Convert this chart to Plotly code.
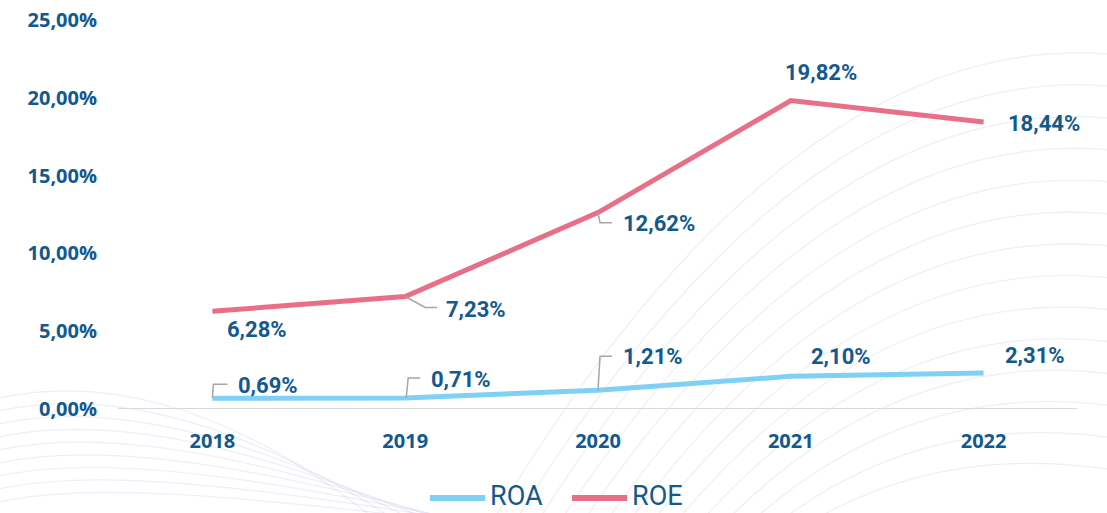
import plotly.graph_objects as go

years = [2018, 2019, 2020, 2021, 2022]
roa = [0.69, 0.71, 1.21, 2.10, 2.31]
roe = [6.28, 7.23, 12.62, 19.82, 18.44]
roa_labels = ["0,69%", "0,71%", "1,21%", "2,10%", "2,31%"]
roe_labels = ["6,28%", "7,23%", "12,62%", "19,82%", "18,44%"]
y_ticks = [0, 5, 10, 15, 20, 25]
y_tick_text = ["0,00%", "5,00%", "10,00%", "15,00%", "20,00%", "25,00%"]
series_names = ["ROA", "ROE"]

ROA_COLOR = "#7FD0F5"
ROE_COLOR = "#E96E87"
TEXT_COLOR = "#11598F"
LEADER = "#A6A6A6"
BG_LINE = "rgba(200,202,232,0.32)"

W, H = 1107, 513
L, R, T, B = 116, 27, 20, 104


def px(x):
    return (x - L) / (W - L - R)


def py(y):
    return (H - B - y) / (H - T - B)


# label placement (pixel offsets: dx, dy, anchor) and leader paths
roa_style = [
    (24, 13, "left", "M0,0 L1,14 L15,14"),
    (24, 18, "left", "M1,0 L3,20 L15,20"),
    (23, 34, "left", "M0,0 L2,34 L14,34"),
    (18, 20, "left", None),
    (19, 18, "left", None),
]
roe_style = [
    (13, -18, "left", None),
    (39, -13, "left", "M0,0 L20,-11 L32,-11"),
    (23, -11, "left", "M0,0 L2,-10 L14,-10"),
    (30, 28, "center", None),
    (22, -1, "left", None),
]

fig = go.Figure()
fig.add_trace(go.Scatter(x=years, y=roa, name=series_names[0], mode="lines",
                         line=dict(color=ROA_COLOR, width=5), hoverinfo="skip",
                         showlegend=False))
fig.add_trace(go.Scatter(x=years, y=roe, name=series_names[1], mode="lines",
                         line=dict(color=ROE_COLOR, width=5), hoverinfo="skip",
                         showlegend=False))

annotations = []
shapes = []

# faint decorative background curves
for i in range(14):
    ye = 40 + 32 * i
    x0 = 470 + 22 * i
    shapes.append(dict(type="path", xref="paper", yref="paper", layer="below",
                       path=f"M{px(x0)},{py(560)} Q{px(780 + 10 * i)},{py(ye - 20)} {px(1120)},{py(ye + 15)}",
                       line=dict(color=BG_LINE, width=1.2)))
for i in range(9):
    y0 = 392 + 13 * i
    shapes.append(dict(type="path", xref="paper", yref="paper", layer="below",
                       path=f"M{px(-10)},{py(y0 + 8)} C{px(80)},{py(y0 - 14)} {px(220)},{py(y0 - 6)} {px(400 + 25 * i)},{py(540)}",
                       line=dict(color=BG_LINE, width=1.2)))

for vals, labels, style in [(roa, roa_labels, roa_style), (roe, roe_labels, roe_style)]:
    for x, v, lab, (dx, dy, anc, path) in zip(years, vals, labels, style):
        annotations.append(dict(x=x, y=v, xref="x", yref="y", text=lab, showarrow=False,
                                xanchor=anc, yanchor="middle", xshift=dx, yshift=dy,
                                font=dict(family="Roboto", size=22, color=TEXT_COLOR, weight="bold")))
        if path:
            shapes.append(dict(type="path", xref="x", yref="y", xsizemode="pixel",
                               ysizemode="pixel", xanchor=x, yanchor=v, path=path,
                               line=dict(color=LEADER, width=1.5)))

# baseline
shapes.append(dict(type="line", xref="paper", yref="y", x0=px(118), x1=px(1077), y0=0, y1=0,
                   line=dict(color="#D9D9D9", width=2), layer="below"))

# manual legend
for name, color, lx in [(series_names[0], ROA_COLOR, 430), (series_names[1], ROE_COLOR, 572)]:
    shapes.append(dict(type="line", xref="paper", yref="paper", x0=px(lx), x1=px(lx + 55),
                       y0=py(498), y1=py(498), line=dict(color=color, width=6)))
    annotations.append(dict(x=px(lx + 58), y=py(496), xref="paper", yref="paper", text=name,
                            showarrow=False, xanchor="left", yanchor="middle",
                            font=dict(family="Roboto", size=27, color=TEXT_COLOR)))

fig.update_layout(
    width=W, height=H,
    margin=dict(l=L, r=R, t=T, b=B),
    paper_bgcolor="white", plot_bgcolor="rgba(0,0,0,0)",
    xaxis=dict(range=[2017.5, 2022.5], tickvals=years, ticktext=[str(y) for y in years],
               showgrid=False, zeroline=False, showline=False, ticks="", automargin=False,
               ticklabelstandoff=18,
               tickfont=dict(family="Open Sans", size=20, color=TEXT_COLOR, weight="bold")),
    yaxis=dict(range=[0, 25], tickvals=y_ticks, ticktext=y_tick_text, showgrid=False,
               zeroline=False, showline=False, ticks="", ticklabelstandoff=18, automargin=False,
               tickfont=dict(family="Open Sans", size=20, color=TEXT_COLOR, weight="bold")),
    annotations=annotations, shapes=shapes, showlegend=False,
)

fig.write_html("out.html", config={"displayModeBar": False},
               post_script="document.body.style.margin='0';document.body.style.overflow='hidden';")
